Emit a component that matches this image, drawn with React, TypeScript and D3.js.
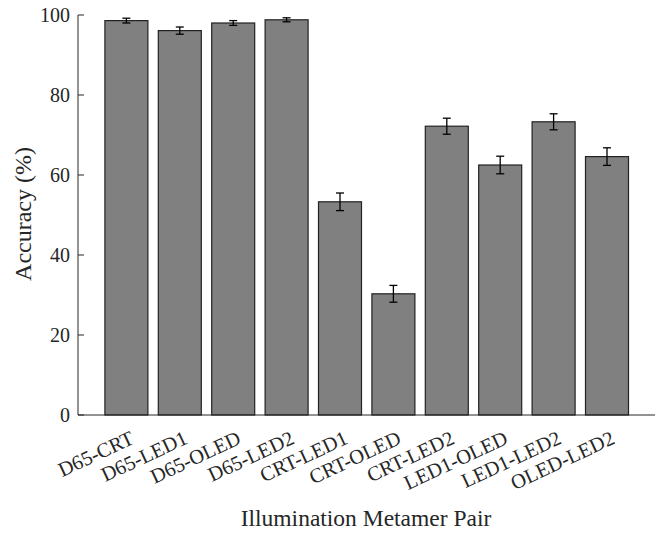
import React, { useEffect, useRef } from "react";
import * as d3 from "d3";

const categories = [
  "D65-CRT",
  "D65-LED1",
  "D65-OLED",
  "D65-LED2",
  "CRT-LED1",
  "CRT-OLED",
  "CRT-LED2",
  "LED1-OLED",
  "LED1-LED2",
  "OLED-LED2",
];
const accuracy = [98.6, 96.1, 98.0, 98.8, 53.3, 30.3, 72.2, 62.5, 73.3, 64.6];
const errors = [0.6, 0.9, 0.6, 0.5, 2.2, 2.1, 2.0, 2.2, 2.0, 2.2];
const yTicks = [0, 20, 40, 60, 80, 100];

const FONT = "'Liberation Serif', 'Times New Roman', serif";

const App = () => {
  const chartRef = useRef<SVGSVGElement | null>(null);

  useEffect(() => {
    const plot = { left: 78, right: 655, top: 15, bottom: 415 };

    const svg = d3.select(chartRef.current);
    svg.selectAll("*").remove();

    // bar positions: index 1..10 on a numeric axis
    const x = d3.scaleLinear().domain([0, 11]).range([73, 73 + 53.4 * 11]);
    const y = d3.scaleLinear().domain([0, 100]).range([plot.bottom, plot.top]);
    const barW = 43;

    // bars
    svg
      .selectAll(".bar")
      .data(accuracy)
      .enter()
      .append("rect")
      .attr("class", "bar")
      .attr("x", (d, i) => x(i + 1) - barW / 2)
      .attr("y", (d) => y(d))
      .attr("width", barW)
      .attr("height", (d) => y(0) - y(d))
      .attr("fill", "#808080")
      .attr("stroke", "#222")
      .attr("stroke-width", 1.2);

    // error bars
    const eb = svg
      .selectAll(".err")
      .data(accuracy)
      .enter()
      .append("g")
      .attr("class", "err")
      .attr("stroke", "#000")
      .attr("stroke-width", 1.3);
    eb.append("line")
      .attr("x1", (d, i) => x(i + 1))
      .attr("x2", (d, i) => x(i + 1))
      .attr("y1", (d, i) => y(d - errors[i]))
      .attr("y2", (d, i) => y(d + errors[i]));
    eb.append("line")
      .attr("x1", (d, i) => x(i + 1) - 4)
      .attr("x2", (d, i) => x(i + 1) + 4)
      .attr("y1", (d, i) => y(d + errors[i]))
      .attr("y2", (d, i) => y(d + errors[i]));
    eb.append("line")
      .attr("x1", (d, i) => x(i + 1) - 4)
      .attr("x2", (d, i) => x(i + 1) + 4)
      .attr("y1", (d, i) => y(d - errors[i]))
      .attr("y2", (d, i) => y(d - errors[i]));

    // Y axis
    svg
      .append("line")
      .attr("x1", plot.left)
      .attr("x2", plot.left)
      .attr("y1", plot.top)
      .attr("y2", plot.bottom)
      .attr("stroke", "#262626");
    svg
      .selectAll(".ytick")
      .data(yTicks)
      .enter()
      .append("line")
      .attr("x1", plot.left)
      .attr("x2", plot.left + 6)
      .attr("y1", (d) => y(d))
      .attr("y2", (d) => y(d))
      .attr("stroke", "#262626");
    svg
      .selectAll(".ylab")
      .data(yTicks)
      .enter()
      .append("text")
      .attr("x", plot.left - 8)
      .attr("y", (d) => y(d))
      .attr("dy", "0.35em")
      .attr("text-anchor", "end")
      .attr("font-family", FONT)
      .attr("font-size", 20)
      .attr("fill", "#262626")
      .text((d) => d);

    // X axis
    svg
      .append("line")
      .attr("x1", plot.left)
      .attr("x2", plot.right)
      .attr("y1", plot.bottom)
      .attr("y2", plot.bottom)
      .attr("stroke", "#262626");

    svg
      .selectAll(".xlab")
      .data(categories)
      .enter()
      .append("text")
      .attr("transform", (d, i) => `translate(${x(i + 1) + 9},${plot.bottom + 28}) rotate(-25)`)
      .attr("text-anchor", "end")
      .attr("font-family", FONT)
      .attr("font-size", 20.5)
      .attr("fill", "#262626")
      .text((d) => d);

    // X-axis label
    svg
      .append("text")
      .attr("x", 366)
      .attr("y", 526)
      .attr("text-anchor", "middle")
      .attr("font-family", FONT)
      .attr("font-size", 23.5)
      .attr("fill", "#262626")
      .text("Illumination Metamer Pair");

    // Y-axis label
    svg
      .append("text")
      .attr("transform", "rotate(-90)")
      .attr("x", -214)
      .attr("y", 31)
      .attr("text-anchor", "middle")
      .attr("font-family", FONT)
      .attr("font-size", 24)
      .attr("fill", "#262626")
      .text("Accuracy (%)");
  }, []);

  return (
    <svg
      ref={chartRef}
      width={655}
      height={533}
      style={{ position: "absolute", left: 0, top: 0, background: "#fff" }}
    />
  );
};

export default App;
